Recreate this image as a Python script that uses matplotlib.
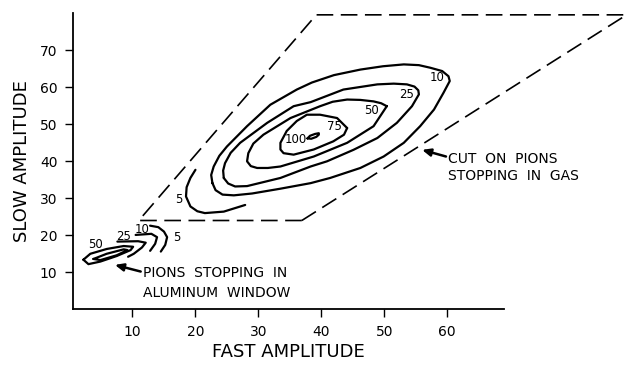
import matplotlib
matplotlib.use("Agg")
import matplotlib.pyplot as plt

# contour traces (fast, slow amplitude)
c5_x = [20.0, 19.2, 18.6, 18.5, 19.2, 20.3, 21.5, 24.5, 27.9]
c5_y = [37.7, 35.5, 33.0, 30.5, 27.8, 26.5, 26.0, 26.4, 28.2]

c10_x = [22.7, 22.5, 22.9, 23.8, 25.0, 28.2, 31.9, 36.1, 38.5, 42.0, 46.2, 49.8, 53.1, 55.5,
         57.3, 59.2, 60.2, 60.4, 59.4, 57.9, 55.7, 53.1, 49.9, 46.2, 41.4, 38.3, 33.5,
         29.0, 26.1, 24.3, 23.2, 22.7]
c10_y = [34.1, 36.3, 38.6, 41.5, 44.0, 49.5, 55.3, 59.4, 61.3, 63.3, 64.8, 65.7, 66.2, 66.0,
         65.3, 64.4, 63.0, 61.7, 58.5, 54.0, 49.5, 45.0, 41.3, 38.2, 35.5, 34.1, 32.6,
         31.3, 30.8, 31.0, 32.2, 34.1]

c25_x = [24.5, 24.4, 24.7, 25.6, 27.1, 31.4, 35.6, 38.3, 43.5, 48.9, 51.5, 53.6, 54.8, 55.4,
         55.5, 54.4, 52.0, 48.9, 45.1, 40.9, 38.3, 33.5, 28.2, 26.3, 25.2, 24.5]
c25_y = [35.5, 37.5, 39.5, 42.3, 45.0, 50.4, 54.9, 56.0, 59.4, 60.8, 61.0, 60.8, 60.2, 59.2,
         58.1, 54.9, 50.4, 46.3, 43.1, 40.0, 38.6, 35.5, 33.3, 33.2, 34.0, 35.5]

c50_x = [50.4, 49.5, 48.3, 46.2, 44.1, 41.8, 39.8, 35.1, 30.8, 29.2, 28.4, 28.2, 28.8, 29.8,
         31.5, 33.5, 38.8, 44.1, 48.3, 50.4]
c50_y = [54.9, 55.7, 56.2, 56.6, 56.7, 56.1, 54.9, 51.7, 47.2, 44.8, 42.2, 40.0, 38.7, 38.2,
         38.2, 38.6, 41.3, 45.0, 49.5, 54.9]

c75_x = [44.1, 42.5, 39.8, 37.7, 36.1, 34.5, 33.5, 33.5, 34.0, 35.6, 38.8, 41.9, 43.6, 44.1]
c75_y = [49.0, 51.7, 52.6, 52.6, 50.9, 48.2, 45.0, 43.2, 42.2, 41.8, 43.2, 45.4, 47.2, 49.0]

c100_x = [37.8, 38.2, 39.0, 39.6, 39.6, 39.2, 38.4, 37.8]
c100_y = [46.2, 46.9, 47.4, 47.6, 47.2, 46.6, 46.1, 46.2]

# aluminum window peak
w50_x = [2.2, 3.3, 5.9, 8.6, 10.1, 9.7, 7.5, 4.9, 3.0, 2.2]
w50_y = [13.4, 15.0, 16.3, 17.1, 16.9, 16.0, 14.4, 12.9, 12.2, 13.4]
wmid_x = [3.8, 5.9, 8.6, 9.2, 7.5, 4.9, 3.8]
wmid_y = [13.6, 15.0, 16.2, 16.0, 14.6, 13.3, 13.6]
w25_x = [7.6, 10.9, 12.1, 11.5, 10.2, 9.3]
w25_y = [18.3, 18.4, 18.0, 16.7, 15.0, 14.2]
w10_x = [10.5, 13.0, 13.9, 13.6, 12.8]
w10_y = [20.1, 20.4, 19.5, 17.7, 15.8]
w5_x = [12.8, 14.1, 15.0, 15.5, 15.2, 14.5]
w5_y = [22.6, 22.2, 21.0, 19.5, 17.4, 15.6]

# contour labels
lab_text = ["5", "10", "25", "50", "75", "100", "50", "25", "10", "5"]
lab_x = [17.3, 58.4, 53.6, 47.9, 42.1, 35.9, 4.1, 8.6, 11.5, 17.1]
lab_y = [29.6, 62.6, 58.0, 53.8, 49.4, 45.9, 17.4, 19.6, 21.7, 19.5]

# cut region (dashed)
cut_x = [36.9, 11.0, 39.2, 88.5]
cut_y = [24.0, 24.0, 79.6, 79.6]
cut2_x = [36.9, 88.5]
cut2_y = [24.0, 79.6]

xticks = [10, 20, 30, 40, 50, 60]
yticks = [10, 20, 30, 40, 50, 60, 70]

fig = plt.figure(figsize=(6.24, 3.66), dpi=100)
ax = fig.add_axes([0.1165, 0.155, 0.691, 0.8085])

for xs, ys in [(c5_x, c5_y), (c10_x, c10_y), (c25_x, c25_y), (c50_x, c50_y),
               (c75_x, c75_y), (c100_x, c100_y), (w50_x, w50_y), (wmid_x, wmid_y),
               (w25_x, w25_y), (w10_x, w10_y), (w5_x, w5_y)]:
    ax.plot(xs, ys, color="black", lw=1.6, solid_joinstyle="round", solid_capstyle="round")

ax.plot(cut_x, cut_y, color="black", lw=1.2, dashes=(10, 4.5), clip_on=False)
ax.plot(cut2_x, cut2_y, color="black", lw=1.2, dashes=(10, 4.5), clip_on=False)

for t, x, y in zip(lab_text, lab_x, lab_y):
    ax.text(x, y, t, fontsize=8.5, ha="center", va="center")

# annotations
ax.annotate("", xy=(7.2, 12.0), xytext=(11.3, 10.2),
            arrowprops=dict(arrowstyle="-|>,head_length=0.5,head_width=0.22",
                            color="black", lw=1.8, shrinkA=0, shrinkB=0))
ax.text(11.6, 9.9, "PIONS  STOPPING  IN", fontsize=10, ha="left", va="center")
ax.text(11.6, 4.5, "ALUMINUM  WINDOW", fontsize=10, ha="left", va="center")

ax.annotate("", xy=(56.0, 43.1), xytext=(59.8, 41.3),
            arrowprops=dict(arrowstyle="-|>,head_length=0.5,head_width=0.22",
                            color="black", lw=1.8, shrinkA=0, shrinkB=0))
ax.text(60.2, 40.6, "CUT  ON  PIONS", fontsize=10, ha="left", va="center", clip_on=False)
ax.text(60.2, 35.9, "STOPPING  IN  GAS", fontsize=10, ha="left", va="center", clip_on=False)

ax.set_xlim(0.5, 69)
ax.set_ylim(0, 80)
ax.set_xticks(xticks)
ax.set_yticks(yticks)
ax.tick_params(direction="out", length=6, width=1, labelsize=10, pad=5)
for s in ["top", "right"]:
    ax.spines[s].set_visible(False)
for s in ["left", "bottom"]:
    ax.spines[s].set_linewidth(1.3)

ax.set_xlabel("FAST AMPLITUDE", fontsize=13, labelpad=3)
ax.set_ylabel("SLOW AMPLITUDE", fontsize=13, labelpad=6)

plt.savefig("out.png", dpi=100)
